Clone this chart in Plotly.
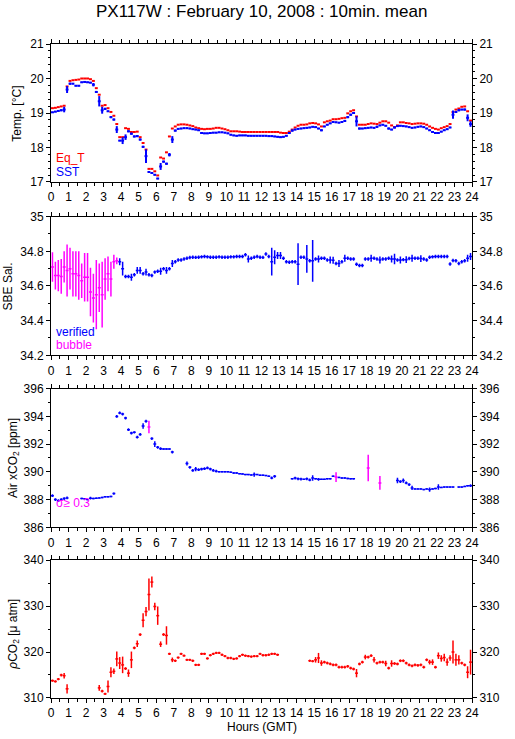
import plotly.graph_objects as go

# ---------------- data (10-minute means, 144 intervals, 0-24 h GMT) ----------------
N_INTERVALS = 144
INTERVAL_H = 1.0 / 6.0

EQ_T = [
    19.14, 19.15, 19.17, 19.19, 19.21, 19.77,
    19.93, 19.95, 19.96, 19.97, 20.00, 20.00,
    20.00, 19.98, 19.93, 19.72, 19.53, 19.21,
    19.23, 19.14, 19.03, 18.92, 18.68, 18.30,
    18.30, 18.56, 18.54, 18.45, 18.45, 18.46,
    18.30, 18.13, 17.94, 17.38, 17.38, 17.31,
    17.19, 17.71, 17.68, 17.86, 18.32, 18.55,
    18.61, 18.66, 18.67, 18.67, 18.66, 18.64,
    18.62, 18.58, 18.56, 18.54, 18.53, 18.54,
    18.54, 18.55, 18.57, 18.57, 18.55, 18.53,
    18.50, 18.47, 18.47, 18.47, 18.46, 18.45,
    18.45, 18.45, 18.45, 18.45, 18.45, 18.45,
    18.45, 18.45, 18.45, 18.45, 18.45, 18.45,
    18.43, 18.42, 18.42, 18.46, 18.52, 18.58,
    18.63, 18.66, 18.66, 18.67, 18.70, 18.71,
    18.70, 18.67, 18.61, 18.73, 18.76, 18.78,
    18.82, 18.82, 18.83, 18.85, 18.86, 18.99,
    19.05, 19.08, 18.90, 18.66, 18.66, 18.66,
    18.68, 18.70, 18.69, 18.68, 18.72, 18.76,
    18.76, 18.72, 18.64, 18.59, 18.64, 18.73,
    18.73, 18.71, 18.70, 18.68, 18.69, 18.70,
    18.70, 18.69, 18.66, 18.61, 18.57, 18.54,
    18.52, 18.56, 18.59, 18.62, 18.68, 19.03,
    19.10, 19.13, 19.18, 19.19, 19.05, 18.78,
]

SST = [
    19.02, 19.04, 19.06, 19.08, 19.10, 19.68,
    19.85, 19.85, 19.79, 19.79, 19.89, 19.90,
    19.89, 19.88, 19.82, 19.61, 19.34, 19.08,
    19.12, 19.05, 18.88, 18.81, 18.52, 18.20,
    18.20, 18.30, 18.47, 18.40, 18.32, 18.33,
    18.23, 18.02, 17.75, 17.29, 17.26, 17.21,
    17.10, 17.45, 17.59, 17.53, 17.79, 18.23,
    18.49, 18.54, 18.55, 18.56, 18.56, 18.55,
    18.53, 18.52, 18.50, 18.42, 18.41, 18.41,
    18.42, 18.43, 18.43, 18.44, 18.44, 18.43,
    18.41, 18.37, 18.35, 18.34, 18.35, 18.35,
    18.35, 18.34, 18.34, 18.34, 18.34, 18.34,
    18.34, 18.34, 18.33, 18.33, 18.32, 18.31,
    18.30, 18.31, 18.34, 18.42, 18.49, 18.52,
    18.54, 18.55, 18.56, 18.57, 18.58, 18.60,
    18.59, 18.55, 18.50, 18.61, 18.66, 18.70,
    18.74, 18.73, 18.72, 18.74, 18.77, 18.88,
    18.95, 19.00, 18.76, 18.55, 18.55, 18.56,
    18.57, 18.58, 18.57, 18.60, 18.64, 18.66,
    18.63, 18.55, 18.52, 18.58, 18.62, 18.63,
    18.62, 18.61, 18.59, 18.57, 18.58, 18.60,
    18.61, 18.59, 18.55, 18.50, 18.45, 18.42,
    18.42, 18.46, 18.50, 18.53, 18.58, 18.95,
    19.03, 19.08, 19.10, 19.10, 18.86, 18.68,
]

SST_STD = [
    .02, .02, .02, .03, .08, .10,
    .03, .02, .02, .02, .02, .02,
    .02, .02, .05, .03, .15, .10,
    .03, .02, .03, .03, .10, .02,
    .10, .08, .03, .03, .03, .03,
    .03, .03, .20, .02, .02, .02,
    .02, .10, .03, .03, .05, .10,
    .03, .02, .02, .02, .02, .02,
    .02, .02, .02, .02, .02, .02,
    .02, .02, .02, .02, .02, .02,
    .02, .02, .02, .02, .02, .02,
    .02, .02, .02, .02, .02, .02,
    .02, .02, .02, .02, .02, .02,
    .02, .02, .02, .03, .03, .02,
    .02, .02, .02, .02, .02, .02,
    .02, .02, .03, .02, .02, .02,
    .02, .02, .02, .02, .03, .03,
    .03, .03, .15, .03, .02, .02,
    .02, .02, .02, .03, .02, .02,
    .02, .03, .02, .03, .02, .02,
    .02, .02, .02, .02, .02, .02,
    .02, .02, .02, .02, .02, .02,
    .02, .02, .02, .02, .02, .12,
    .03, .03, .02, .03, .10, .08,
]

SAL = [
    34.71, 34.66, 34.66, 34.655, 34.71, 34.69,
    34.70, 34.67, 34.67, 34.66, 34.63, 34.65,
    34.65, 34.565, 34.53, 34.55, 34.59, 34.55,
    34.64, 34.67, 34.64, 34.74, 34.745, 34.74,
    34.70, 34.655, 34.655, 34.65, 34.665, 34.69,
    34.69, 34.67, 34.68, 34.665, 34.66, 34.68,
    34.685, 34.685, 34.70, 34.69, 34.70, 34.73,
    34.74, 34.75, 34.75, 34.756, 34.76, 34.764,
    34.766, 34.765, 34.766, 34.768, 34.77, 34.768,
    34.766, 34.766, 34.766, 34.768, 34.766, 34.766,
    34.766, 34.768, 34.768, 34.77, 34.77, 34.77,
    34.78, 34.756, 34.76, 34.766, 34.77, 34.766,
    34.765, 34.785, 34.77, 34.74, 34.766, 34.776,
    34.776, 34.76, 34.74, 34.737, 34.74, 34.74,
    34.726, 34.766, 34.766, 34.756, 34.745, 34.745,
    34.756, 34.756, 34.76, 34.76, 34.75, 34.75,
    34.748, 34.73, 34.73, 34.74, 34.76, 34.76,
    34.756, 34.756, 34.726, 34.718, 34.718, 34.756,
    34.756, 34.76, 34.76, 34.756, 34.75, 34.756,
    34.756, 34.76, 34.756, 34.756, 34.75, 34.75,
    34.752, 34.752, 34.758, 34.76, 34.76, 34.76,
    34.758, 34.756, 34.75, 34.766, 34.768, 34.77,
    34.77, 34.77, 34.77, 34.77, 34.727, 34.747,
    34.745, 34.73, 34.74, 34.745, 34.76, 34.77,
]

SAL_STD = [
    .085, .08, .09, .10, .09, .15,
    .12, .13, .13, .14, .10, .14,
    .14, .14, .14, .20, .14, .19,
    .12, .10, .10, .04, .02, .02,
    .04, .01, .01, .02, .01, .02,
    .02, .01, .02, .01, .01, .01,
    .01, .02, .01, .02, .01, .02,
    .01, .01, .01, .01, .01, .01,
    .01, .01, .01, .01, .01, .01,
    .01, .01, .01, .01, .01, .01,
    .01, .01, .01, .01, .01, .01,
    .01, .02, .01, .01, .01, .01,
    .01, .01, .01, .08, .04, .02,
    .02, .01, .01, .01, .01, .01,
    .12, .01, .01, .08, .01, .12,
    .01, .02, .01, .01, .01, .02,
    .02, .01, .02, .01, .02, .01,
    .01, .01, .01, .01, .01, .01,
    .01, .02, .01, .01, .02, .01,
    .01, .01, .02, .03, .01, .02,
    .01, .02, .01, .02, .01, .01,
    .02, .01, .01, .01, .01, .01,
    .01, .01, .01, .01, .01, .01,
    .01, .01, .01, .01, .02, .02,
]
SAL_BUBBLE_LAST = 22   # intervals 0..22 flagged "bubble"

XCO2 = [
    388.28, 388.00, 387.92, 388.00, 388.07, 388.12,
    None, None, None, None, 388.08, 388.06,
    388.00, 388.10, 388.08, 388.10, 388.12, 388.15,
    388.20, 388.20, 388.22, 388.43, 394.00, 394.25,
    394.17, 393.88, 393.04, 392.80, 392.85, 392.50,
    392.70, 393.30, 393.65, 393.24, 392.40, 392.00,
    391.77, 391.67, 391.65, 391.65, 391.65, 391.43,
    None, None, None, None, 390.60, 390.33,
    390.10, 390.20, 390.16, 390.20, 390.23, 390.28,
    390.20, 390.10, 390.05, 390.00, 390.00, 390.00,
    390.00, 389.98, 389.92, 389.92, 389.87, 389.85,
    389.80, 389.80, 389.78, 389.80, 389.80, 389.75,
    389.75, 389.73, 389.68, 389.56, 389.68, None,
    None, None, None, None, 389.50, 389.55,
    389.50, 389.48, 389.46, 389.50, 389.42, 389.55,
    389.50, 389.46, 389.46, 389.46, 389.50, 389.50,
    389.68, 389.62, 389.60, 389.56, 389.56, 389.52,
    389.50, 389.50, None, None, None, None,
    390.28, None, None, None, 389.20, None,
    None, None, None, None, 389.37, 389.30,
    389.37, 389.20, 389.08, 388.84, 388.77, 388.77,
    388.77, 388.72, 388.77, 388.72, 388.77, 388.80,
    388.90, 388.88, 388.90, 388.90, 388.90, 388.90,
    None, 388.90, 388.90, 388.95, 389.00, 389.00,
]

XCO2_STD = [
    .10, .10, .10, .10, .10, .10,
    0, 0, 0, 0, .05, .05,
    .05, .10, .05, .05, .05, .05,
    .05, .05, .05, .08, .10, .10,
    .10, .10, .10, .10, .08, .10,
    .10, .20, .10, .45, .10, .20,
    .10, .10, .05, .05, .05, .10,
    0, 0, 0, 0, .15, .10,
    .10, .15, .10, .10, .10, .10,
    .10, .10, .10, .05, .05, .05,
    .05, .05, .05, .05, .05, .05,
    .05, .05, .05, .15, .05, .05,
    .05, .05, .05, .10, .10, 0,
    0, 0, 0, 0, .05, .10,
    .10, .10, .05, .10, .10, .20,
    .05, .10, .05, .05, .05, .05,
    .05, .35, .05, .05, .05, .05,
    .05, .05, 0, 0, 0, 0,
    .95, 0, 0, 0, .50, 0,
    0, 0, 0, 0, .20, .10,
    .15, .10, .10, .15, .05, .05,
    .05, .05, .05, .15, .05, .05,
    .20, .05, .05, .05, .05, .05,
    0, .05, .05, .05, .05, .10,
]
XCO2_FLAGGED = [33, 97, 108, 112]   # sigma >= 0.3

PCO2 = [
    313.77, 313.6, 314.1, 315.0, 314.85, 312.0,
    None, None, None, None, None, None,
    None, None, None, None, 312.2, 311.5,
    310.9, 312.5, 315.6, 315.8, 318.5, 317.6,
    317.2, 316.4, 315.4, 318.3, 320.9, 321.8,
    323.8, 326.9, 328.8, 332.5, 335.2, 329.9,
    327.9, 321.7, 323.8, 323.6, 319.6, 318.3,
    318.1, 318.8, 319.6, 319.2, 318.3, 318.3,
    318.1, 317.2, 317.2, 319.6, 319.6, 318.6,
    319.3, 319.6, 319.8, 319.8, 319.4, 319.1,
    318.7, 318.7, 318.5, 318.6, 319.1, 319.4,
    319.2, 319.1, 319.0, 319.1, 319.1, 319.6,
    319.3, 319.3, 319.4, 319.6, 319.6, 319.4,
    None, None, None, None, None, None,
    None, None, None, None, 318.1, 318.0,
    318.3, 318.7, 317.6, 317.8, 317.6, 317.4,
    317.2, 317.2, 316.7, 316.7, 316.7, 316.9,
    316.5, 316.3, 315.4, 317.4, 317.8, 318.9,
    318.9, 319.2, 318.3, 317.6, 317.8, 317.8,
    317.5, 316.5, 317.5, 317.5, 317.4, 318.1,
    318.1, 317.6, 317.2, 317.0, 317.2, 317.1,
    317.2, 316.7, 318.3, 317.8, 317.8, 316.7,
    319.2, 318.6, 318.8, 317.8, 318.7, 320.0,
    318.3, 318.3, 317.6, 317.2, 315.6, 317.8,
]

PCO2_STD = [
    .25, .25, .25, .30, .60, 1.0,
    0, 0, 0, 0, 0, 0,
    0, 0, 0, 0, .60, .30,
    .25, 1.3, 1.1, .60, 1.6, 1.3,
    1.8, .30, .80, 1.8, .30, .70,
    .30, 1.5, 1.0, 3.5, 1.2, .80,
    2.0, .60, .30, 2.0, .25, .50,
    .25, .25, .25, .25, .25, .25,
    .25, .25, .25, .25, .25, .25,
    .25, .25, .25, .25, .25, .25,
    .25, .25, .25, .25, .25, .25,
    .25, .25, .25, .25, .25, .25,
    .25, .25, .25, .25, .25, .25,
    0, 0, 0, 0, 0, 0,
    0, 0, 0, 0, .25, .25,
    .60, 1.1, .60, .30, .30, .30,
    .30, .30, .30, .30, .30, .30,
    .30, .30, .90, .30, .30, .50,
    .30, .30, .60, .30, .30, .30,
    .60, .30, .70, .30, .30, .30,
    .30, .30, .30, .30, .30, .30,
    .30, .30, .30, .50, .60, .30,
    .70, .70, .80, .80, .60, 2.5,
    1.3, 1.0, .30, .30, 1.3, 2.7,
]

TITLE = "PX117W : February 10, 2008 : 10min. mean"
X_TITLE = "Hours (GMT)"

# ---------------- figure ----------------
RED = "#ff0000"
BLUE = "#0000ff"
MAG = "#ff00ff"
FONT = "Liberation Sans, Arial, Helvetica, sans-serif"

T = [(i + 0.5) * INTERVAL_H for i in range(N_INTERVALS)]
HALF = INTERVAL_H / 2.0

fig = go.Figure()


def add_series(values, std, color, ax_id, th, with_y=True):
    xa = "x" if ax_id == 1 else f"x{ax_id}"
    ya = "y" if ax_id == 1 else f"y{ax_id}"
    err_y = dict(type="data", array=[s if s is not None else 0 for s in std] if std else None,
                 width=0, thickness=th, color=color, visible=with_y)
    fig.add_trace(go.Scatter(
        x=T, y=values, xaxis=xa, yaxis=ya, mode="markers",
        marker=dict(size=0.1, color="rgba(0,0,0,0)"),
        error_x=dict(type="constant", value=HALF, width=0, thickness=th, color=color),
        error_y=err_y,
        showlegend=False, hoverinfo="skip"))


def split(values, flagged):
    a = [None if i in flagged else v for i, v in enumerate(values)]
    b = [v if i in flagged else None for i, v in enumerate(values)]
    return a, b


# panel 1: temperatures
add_series(EQ_T, None, RED, 1, 2.0, with_y=False)
add_series(SST, SST_STD, BLUE, 1, 2.0)

# panel 2: salinity
bubble_set = set(range(0, SAL_BUBBLE_LAST + 1))
sal_ok, sal_bub = split(SAL, bubble_set)
add_series(sal_ok, SAL_STD, BLUE, 2, 1.5)
add_series(sal_bub, SAL_STD, MAG, 2, 1.5)

# panel 3: air xCO2
x_ok, x_flag = split(XCO2, set(XCO2_FLAGGED))
add_series(x_ok, XCO2_STD, BLUE, 3, 1.5)
add_series(x_flag, XCO2_STD, MAG, 3, 1.5)

# panel 4: pCO2
add_series(PCO2, PCO2_STD, RED, 4, 1.5)

# invisible traces for right-hand axes
for k in range(5, 9):
    fig.add_trace(go.Scatter(x=[None], y=[None], xaxis="x" if k == 5 else f"x{k-4}",
                             yaxis=f"y{k}", showlegend=False, hoverinfo="skip"))

domains = [[0.789, 1.0], [0.524, 0.736], [0.261, 0.473], [0.0, 0.211]]
ranges = [[17, 21], [34.2, 35], [386, 396], [310, 340]]
dticks = [1, 0.2, 2, 10]
minors = [0.2, 0.1, 1, 5]
tickfont = dict(family=FONT, size=12, color="black")

layout = dict(
    width=515, height=739,
    margin=dict(l=51, r=37, t=44, b=41),
    paper_bgcolor="white", plot_bgcolor="white",
    font=dict(family=FONT, size=12, color="black"),
    showlegend=False,
)

for k in range(1, 5):
    xname = "xaxis" if k == 1 else f"xaxis{k}"
    yname = "yaxis" if k == 1 else f"yaxis{k}"
    layout[xname] = dict(
        domain=[0, 1], anchor="y" if k == 1 else f"y{k}", range=[0, 24],
        tick0=0, dtick=1, ticks="outside", ticklen=4, tickwidth=1, tickcolor="black",
        minor=dict(dtick=0.5, tick0=0, ticks="outside", ticklen=3, tickcolor="black", showgrid=False),
        showline=True, linecolor="black", linewidth=1, mirror="ticks",
        showgrid=False, zeroline=False, tickfont=tickfont, fixedrange=True,
    )
    ycommon = dict(
        domain=domains[k - 1], range=ranges[k - 1], tick0=ranges[k - 1][0], dtick=dticks[k - 1],
        ticks="outside", ticklen=4, tickwidth=1, tickcolor="black",
        minor=dict(dtick=minors[k - 1], tick0=ranges[k - 1][0], ticks="outside", ticklen=2,
                   tickcolor="black", showgrid=False),
        showline=True, linecolor="black", linewidth=1,
        showgrid=False, zeroline=False, tickfont=tickfont, fixedrange=True,
    )
    layout[yname] = dict(ycommon, anchor="x" if k == 1 else f"x{k}", side="left")
    layout[f"yaxis{k+4}"] = dict(ycommon, anchor="x" if k == 1 else f"x{k}", side="right",
                                 overlaying="y" if k == 1 else f"y{k}")

fig.update_layout(**layout)

annotations = [
    dict(text=TITLE, xref="paper", yref="paper", x=0.5, y=1.050, xanchor="center",
         yanchor="middle", showarrow=False, font=dict(family=FONT, size=17, color="black")),
    dict(text=X_TITLE, xref="paper", yref="paper", x=0.5, y=-0.0445, xanchor="center",
         yanchor="middle", showarrow=False, font=dict(family=FONT, size=12, color="black")),
    # y-axis titles
    dict(text="Temp. [°C]", xref="paper", yref="paper", x=-0.080, y=0.894, textangle=-90,
         xanchor="center", yanchor="middle", showarrow=False, font=dict(family=FONT, size=12)),
    dict(text="SBE Sal.", xref="paper", yref="paper", x=-0.101, y=0.630, textangle=-90,
         xanchor="center", yanchor="middle", showarrow=False, font=dict(family=FONT, size=12)),
    dict(text="Air xCO<sub>2</sub> [ppm]", xref="paper", yref="paper", x=-0.088, y=0.367,
         textangle=-90, xanchor="center", yanchor="middle", showarrow=False,
         font=dict(family=FONT, size=12)),
    dict(text="<i>ρ</i>CO<sub>2</sub> [μ atm]", xref="paper", yref="paper", x=-0.090, y=0.097,
         textangle=-90, xanchor="center", yanchor="middle", showarrow=False,
         font=dict(family=FONT, size=12)),
    # in-panel legends
    dict(text="Eq_T", xref="x", yref="y", x=0.17, y=17.70, xanchor="left", yanchor="middle",
         showarrow=False, font=dict(family=FONT, size=12, color=RED)),
    dict(text="SST", xref="x", yref="y", x=0.17, y=17.30, xanchor="left", yanchor="middle",
         showarrow=False, font=dict(family=FONT, size=12, color=BLUE)),
    dict(text="verified", xref="x2", yref="y2", x=0.17, y=34.335, xanchor="left",
         yanchor="middle", showarrow=False, font=dict(family=FONT, size=12, color=BLUE)),
    dict(text="bubble", xref="x2", yref="y2", x=0.17, y=34.262, xanchor="left",
         yanchor="middle", showarrow=False, font=dict(family=FONT, size=12, color=MAG)),
    dict(text="σ≥ 0.3", xref="x3", yref="y3", x=0.17, y=387.75, xanchor="left",
         yanchor="middle", showarrow=False, font=dict(family=FONT, size=12, color=MAG)),
]
fig.update_layout(annotations=annotations)

fig.write_html("out.html", config={"displayModeBar": False},
               post_script="document.body.style.margin='0px';")
